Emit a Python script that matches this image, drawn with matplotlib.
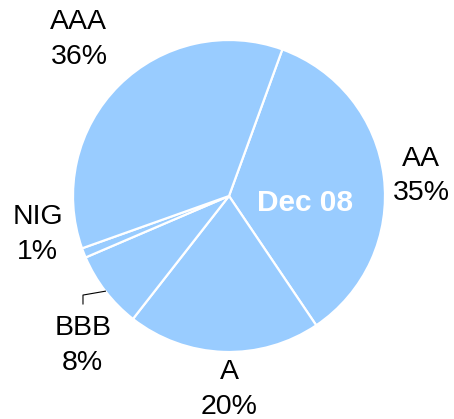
import numpy as np
import matplotlib.pyplot as plt

# ratings split, Dec 08
labels = ['AA', 'A', 'BBB', 'NIG', 'AAA']
shares = [35, 20, 8, 1, 36]
title = 'Dec 08'

plt.rcParams['font.family'] = ['Liberation Sans', 'DejaVu Sans']

fig = plt.figure(figsize=(4.54, 4.19), dpi=100)
ax = fig.add_axes([(229 - 156) / 454, (223 - 156) / 419, 312 / 454, 312 / 419])

wedges, _ = ax.pie(shares, colors=['#99CCFF'] * len(shares), startangle=70,
                   counterclock=False, radius=1,
                   wedgeprops=dict(edgecolor='white', linewidth=1.6))
ax.set_xlim(-1, 1)
ax.set_ylim(-1, 1)
ax.axis('off')

# label distance and angle nudge for each slice
dist = [1.24, 1.24, 1.34, 1.25, 1.39]
nudge = [-1, 2, 8, -10, -1]
for w, lab, s, d, n in zip(wedges, labels, shares, dist, nudge):
    ang = np.deg2rad((w.theta1 + w.theta2) / 2 + n)
    ax.text(d * np.cos(ang), d * np.sin(ang), '%s\n%d%%' % (lab, s),
            ha='center', va='center', fontsize=20.5, linespacing=1.42)

# leader for BBB
w = wedges[2]
ang = np.deg2rad((w.theta1 + w.theta2) / 2)
ax.plot([np.cos(ang), -0.936, -0.936], [np.sin(ang), -0.635, -0.692],
        color='black', linewidth=0.8, clip_on=False)

ax.text(0.487, -0.045, title, ha='center', va='center', color='white',
        fontsize=21.5, fontweight='bold')

fig.savefig('out.png', dpi=100)
